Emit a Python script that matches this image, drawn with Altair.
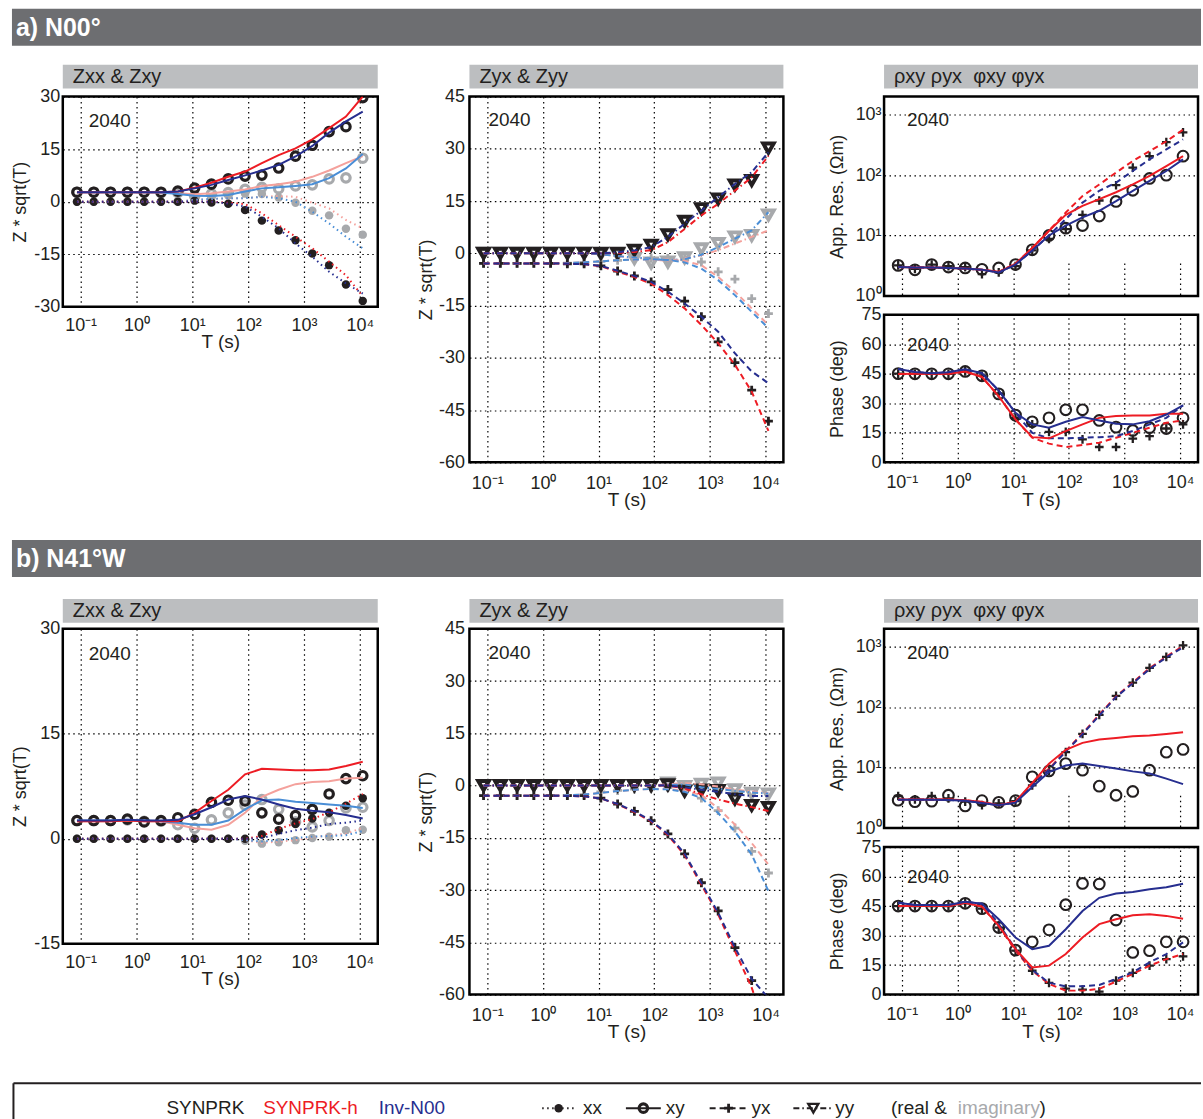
import altair as alt
import pandas as pd

# Periods (s) shared by every sounding curve
PERIOD = [0.0859, 0.1718, 0.3436, 0.6872, 1.374, 2.749, 5.498, 11.0, 21.99,
          43.98, 87.96, 175.9, 351.8, 703.7, 1407.0, 2815.0, 5630.0, 11259.0]

# ---------------- a) N00°  : SYNPRK synthetic data ----------------
A_XY_RE = [2.7, 2.7, 2.7, 2.7, 2.7, 2.7, 3.0, 3.9, 5.0, 6.5, 7.3, 7.6, 9.6, 13.0, 16.1, 20.0, 21.4, 29.7]
A_XY_IM = [2.7, 2.7, 2.7, 2.7, 2.7, 2.6, 2.6, 1.6, 2.2, 2.6, 3.5, 4.1, 3.7, 4.5, 4.8, 6.5, 6.8, 12.4]
A_XX_RE = [0.0, 0.0, 0.0, 0.0, 0.0, 0.0, 0.0, 0.3, -0.2, -0.6, -2.4, -5.4, -8.2, -11.0, -14.8, -18.1, -23.6, -28.3]
A_XX_IM = [0.0, 0.0, 0.0, 0.0, 0.0, 0.0, 0.2, 0.8, 1.3, 1.8, 2.3, 2.2, 1.2, -0.3, -2.6, -3.9, -7.7, -9.4]
A_YX_RE = [-2.9, -2.9, -2.9, -2.9, -2.9, -3.0, -3.0, -3.6, -5.1, -6.5, -8.2, -10.4, -13.7, -18.2, -25.4, -31.4, -39.3, -48.2]
A_YX_IM = [-2.9, -2.9, -2.9, -2.9, -2.9, -2.8, -2.6, -2.3, -2.0, -1.6, -1.4, -1.5, -1.8, -2.5, -5.3, -7.4, -13.0, -17.3]
A_YY_RE = [0.0, 0.0, 0.0, 0.0, 0.0, 0.0, 0.0, 0.0, 0.0, 0.9, 2.3, 5.3, 9.2, 12.8, 15.6, 19.6, 20.9, 30.2]
A_YY_IM = [0.0, 0.0, 0.0, 0.0, 0.0, 0.0, 0.0, -0.2, -0.3, -1.5, -2.8, -2.5, -1.3, 1.3, 2.8, 4.7, 5.1, 11.0]
A_RHO_XY = [3.2, 2.7, 3.3, 3.0, 2.9, 2.75, 2.9, 3.3, 5.8, 10.0, 13.2, 14.6, 21.0, 36.6, 56.0, 88.0, 100.0, 206.0]
A_RHO_YX = [3.2, 2.8, 3.3, 3.1, 3.0, 2.3, 2.45, 3.1, 5.65, 8.8, 12.8, 22.0, 38.0, 68.0, 133.0, 206.0, 351.0, 511.0]
A_PHI_XY = [45.1, 45.0, 45.0, 45.0, 46.2, 44.0, 34.8, 24.0, 20.6, 22.6, 26.7, 26.7, 21.3, 17.9, 16.2, 17.6, 17.2, 22.6]
A_PHI_YX = [45.1, 45.0, 45.0, 45.0, 46.2, 44.0, 35.0, 22.6, 19.3, 15.5, 15.5, 11.7, 7.8, 7.8, 12.0, 13.3, 17.2, 19.3]

# ---------------- a) N00°  : SYNPRK-h response ----------------
AH_XY_RE = [2.7, 2.7, 2.7, 2.7, 2.7, 2.7, 2.9, 4.0, 5.4, 7.1, 8.6, 11.0, 13.3, 15.2, 17.8, 21.0, 24.3, 30.0]
AH_XY_IM = [2.7, 2.7, 2.7, 2.7, 2.7, 2.6, 2.4, 2.1, 2.4, 2.9, 3.5, 4.5, 5.0, 5.7, 7.1, 8.9, 11.0, 13.0]
AH_XX_RE = [0.0, 0.0, 0.0, 0.0, 0.0, 0.0, 0.0, 0.0, 0.0, -0.3, -0.7, -3.3, -6.7, -10.0, -13.3, -17.1, -21.0, -27.0]
AH_XX_IM = [0.0, 0.0, 0.0, 0.0, 0.0, 0.0, 0.0, 0.5, 0.8, 1.0, 1.0, 1.4, 1.6, 1.4, -0.3, -1.9, -5.2, -7.6]
AH_YX_RE = [-2.9, -2.9, -2.9, -2.9, -2.9, -3.0, -3.1, -3.7, -5.3, -6.8, -8.7, -12.0, -15.8, -20.6, -25.8, -32.0, -39.7, -51.0]
AH_YX_IM = [-2.9, -2.9, -2.9, -2.9, -2.9, -2.8, -2.6, -2.3, -2.0, -1.8, -1.7, -1.8, -2.2, -3.4, -6.8, -11.0, -15.8, -20.6]
AH_YY_RE = [0.0, 0.0, 0.0, 0.0, 0.0, 0.0, 0.0, 0.0, 0.1, 0.4, 0.9, 3.2, 7.0, 10.9, 14.2, 18.0, 21.8, 28.0]
AH_YY_IM = [0.0, 0.0, 0.0, 0.0, 0.0, 0.0, 0.0, -0.3, -0.8, -1.3, -1.7, -2.2, -1.5, -0.6, 0.9, 2.8, 4.7, 6.6]
AH_RHO_XY = [3.0, 2.95, 2.95, 2.9, 2.85, 2.7, 2.5, 3.4, 6.2, 12.0, 22.0, 31.0, 40.0, 52.0, 70.0, 97.0, 141.0, 206.0]
AH_RHO_YX = [3.0, 2.95, 2.95, 2.9, 2.85, 2.7, 2.5, 3.4, 6.2, 12.0, 24.0, 45.0, 70.0, 110.0, 171.0, 250.0, 363.0, 565.0]
AH_PHI_XY = [44.9, 45.0, 45.0, 45.0, 46.2, 43.4, 33.6, 21.8, 12.8, 12.2, 15.9, 19.3, 22.6, 23.5, 23.8, 23.8, 24.7, 24.7]
AH_PHI_YX = [44.9, 45.0, 45.0, 45.0, 46.2, 43.4, 33.6, 21.8, 12.5, 9.5, 7.8, 8.8, 10.0, 12.5, 15.0, 17.6, 20.1, 21.3]

# ---------------- a) N00°  : Inv-N00 response ----------------
AI_XY_RE = [2.7, 2.7, 2.7, 2.7, 2.7, 2.7, 2.9, 3.8, 4.8, 6.2, 7.5, 8.9, 10.5, 12.9, 15.9, 19.7, 22.9, 25.7]
AI_XY_IM = [2.7, 2.7, 2.7, 2.7, 2.7, 2.6, 2.2, 1.7, 1.6, 1.9, 2.9, 3.8, 4.1, 4.5, 5.0, 6.7, 9.5, 13.6]
AI_XX_RE = [0.0, 0.0, 0.0, 0.0, 0.0, 0.0, 0.0, 0.0, 0.0, -0.5, -1.4, -4.3, -7.6, -11.9, -15.7, -20.0, -23.3, -26.2]
AI_XX_IM = [0.0, 0.0, 0.0, 0.0, 0.0, 0.0, 0.0, 0.5, 0.8, 1.0, 1.0, 1.4, 1.0, 0.0, -2.9, -6.2, -10.0, -13.3]
AI_YX_RE = [-2.9, -2.9, -2.9, -2.9, -2.9, -3.0, -3.1, -3.6, -5.0, -6.5, -8.2, -11.0, -14.4, -18.2, -22.5, -28.7, -33.9, -37.3]
AI_YX_IM = [-2.9, -2.9, -2.9, -2.9, -2.9, -2.8, -2.6, -2.3, -2.0, -1.8, -1.7, -1.9, -2.6, -4.4, -7.7, -12.0, -16.8, -21.5]
AI_YY_RE = [0.0, 0.0, 0.0, 0.0, 0.0, 0.0, 0.0, 0.0, 0.3, 0.8, 1.8, 4.7, 8.5, 12.3, 16.1, 19.9, 23.3, 29.0]
AI_YY_IM = [0.0, 0.0, 0.0, 0.0, 0.0, 0.0, 0.0, -0.3, -0.8, -1.2, -1.5, -2.0, -1.7, -0.4, 1.8, 4.2, 6.6, 11.8]
AI_RHO_XY = [3.0, 2.95, 2.95, 2.9, 2.85, 2.7, 2.45, 3.3, 5.65, 10.0, 14.6, 20.0, 25.7, 37.0, 55.0, 80.0, 117.0, 182.0]
AI_RHO_YX = [3.0, 2.95, 2.95, 2.9, 2.85, 2.7, 2.45, 3.3, 5.65, 10.0, 18.7, 35.0, 55.0, 75.0, 117.0, 182.0, 266.0, 390.0]
AI_PHI_XY = [47.5, 45.9, 45.3, 45.8, 47.3, 45.3, 36.5, 25.2, 19.3, 17.6, 20.6, 23.0, 21.3, 19.6, 19.3, 20.9, 24.3, 29.0]
AI_PHI_YX = [47.5, 45.9, 45.3, 45.8, 47.3, 45.3, 36.5, 25.2, 15.0, 12.2, 12.2, 12.5, 12.8, 13.3, 15.9, 19.3, 22.6, 29.0]

# ---------------- b) N41°W : SYNPRK synthetic data ----------------
B_XY_RE = [2.6, 2.6, 2.6, 2.8, 2.4, 2.6, 3.0, 3.5, 5.2, 5.5, 5.4, 3.7, 2.8, 3.3, 4.2, 6.4, 8.6, 9.0]
B_XY_IM = [2.6, 2.6, 2.6, 2.7, 2.5, 2.5, 2.0, 1.5, 2.7, 3.7, 4.8, 5.6, 4.2, 2.4, 1.7, 2.6, 4.4, 4.5]
B_XX_RE = [0.0, 0.0, 0.0, 0.0, 0.0, 0.0, 0.0, 0.0, 0.0, 0.0, 0.0, 0.6, 1.2, 2.1, 2.9, 3.7, 4.7, 5.8]
B_XX_IM = [0.0, 0.0, 0.0, 0.0, 0.0, 0.0, 0.0, 0.0, 0.0, 0.0, -0.3, -0.7, -0.5, -0.2, 0.1, 0.3, 1.2, 1.3]
B_YX_RE = [-2.9, -2.9, -2.9, -2.9, -2.9, -2.9, -2.9, -3.6, -5.3, -7.4, -10.1, -13.9, -19.6, -27.9, -36.0, -46.5, -56.0, -70.0]
B_YX_IM = [-2.9, -2.9, -2.9, -2.9, -2.9, -2.8, -2.6, -1.8, -1.4, -1.0, -0.7, -0.6, -1.2, -3.6, -7.2, -12.2, -18.9, -25.1]
B_YY_RE = [0.0, 0.0, 0.0, 0.0, 0.0, 0.0, 0.0, 0.0, 0.0, 0.0, 0.0, 0.2, -1.6, -1.3, -1.4, -3.9, -5.7, -6.3]
B_YY_IM = [0.0, 0.0, 0.0, 0.0, 0.0, 0.0, 0.0, 0.0, 0.0, 0.0, 0.0, 0.7, -0.3, 0.4, 0.7, -1.2, -2.2, -2.4]
B_RHO_XY = [2.9, 2.74, 2.8, 3.5, 2.33, 2.85, 2.67, 2.85, 7.05, 8.85, 11.7, 9.1, 4.95, 3.5, 4.05, 9.1, 18.1, 20.1]
B_RHO_YX = [3.4, 3.0, 3.4, 3.1, 2.74, 2.4, 2.57, 2.8, 5.1, 8.85, 18.1, 36.3, 75.0, 155.0, 257.0, 452.0, 684.0, 1064.0]
B_PHI_XY = [45.0, 45.0, 45.0, 45.0, 46.4, 43.7, 34.1, 22.6, 26.8, 32.9, 45.7, 56.5, 56.2, 37.9, 21.4, 22.3, 26.8, 26.8]
B_PHI_YX = [45.0, 45.0, 45.0, 45.0, 46.4, 43.7, 34.0, 22.3, 12.1, 5.9, 3.0, 2.5, 1.5, 7.1, 11.0, 14.7, 18.0, 19.4]

# ---------------- b) N41°W : SYNPRK-h response ----------------
BH_XY_RE = [2.5, 2.5, 2.5, 2.6, 2.5, 2.5, 2.5, 3.7, 5.4, 7.0, 9.2, 10.0, 9.9, 9.8, 9.8, 9.9, 10.4, 11.0]
BH_XY_IM = [2.5, 2.5, 2.5, 2.6, 2.5, 2.5, 2.0, 1.5, 1.3, 2.0, 3.7, 6.0, 7.0, 7.8, 8.1, 8.2, 8.6, 8.7]
BH_XX_RE = [0.0, 0.0, 0.0, 0.0, 0.0, 0.0, 0.0, 0.0, 0.0, 0.0, 0.0, 0.4, 1.4, 2.2, 2.8, 3.8, 5.0, 6.4]
BH_XX_IM = [0.0, 0.0, 0.0, 0.0, 0.0, 0.0, 0.0, 0.0, 0.0, 0.0, -0.2, -0.6, -0.4, -0.2, 0.2, 0.5, 0.7, 1.6]
BH_YX_RE = [-2.9, -2.9, -2.9, -2.9, -2.9, -3.0, -3.1, -3.7, -5.4, -7.6, -10.3, -14.2, -20.0, -28.5, -37.0, -47.5, -58.0, -72.0]
BH_YX_IM = [-2.9, -2.9, -2.9, -2.9, -2.9, -2.8, -2.6, -2.1, -1.6, -1.2, -1.0, -1.0, -1.5, -2.7, -6.5, -11.2, -16.5, -22.7]
BH_YY_RE = [0.0, 0.0, 0.0, 0.0, 0.0, 0.0, 0.0, 0.0, 0.0, 0.0, 0.0, 0.0, -0.8, -2.5, -4.0, -5.2, -6.2, -7.3]
BH_YY_IM = [0.0, 0.0, 0.0, 0.0, 0.0, 0.0, 0.0, 0.0, 0.0, 0.0, 0.0, 0.4, 0.7, 0.4, -0.3, -1.2, -1.7, -2.2]
BH_RHO_XY = [2.99, 2.98, 2.98, 2.97, 2.9, 2.7, 2.4, 2.74, 5.6, 11.7, 19.8, 25.8, 29.3, 31.2, 33.2, 34.1, 36.3, 38.6]
BH_RHO_YX = [2.99, 2.98, 2.98, 2.97, 2.9, 2.7, 2.4, 2.74, 5.4, 9.6, 19.0, 37.0, 76.0, 152.0, 258.0, 445.0, 690.0, 1040.0]
BH_PHI_XY = [45.0, 45.0, 45.0, 45.0, 46.7, 44.7, 34.9, 23.1, 13.8, 14.7, 20.6, 29.0, 35.8, 38.3, 40.3, 40.8, 40.0, 38.6]
BH_PHI_YX = [45.0, 45.0, 45.0, 45.0, 46.7, 44.7, 34.9, 22.3, 12.1, 5.4, 2.0, 2.0, 2.9, 6.6, 10.5, 14.7, 18.0, 20.6]

# ---------------- b) N41°W : Inv-N00 response ----------------
BI_XY_RE = [2.6, 2.6, 2.6, 2.7, 2.6, 2.6, 2.7, 3.5, 4.5, 5.6, 6.1, 5.6, 4.9, 4.3, 4.0, 3.8, 3.4, 2.9]
BI_XY_IM = [2.6, 2.6, 2.6, 2.7, 2.6, 2.5, 2.3, 2.0, 2.0, 2.6, 4.2, 5.5, 5.6, 5.3, 5.1, 4.9, 4.7, 4.4]
BI_XX_RE = [0.0, 0.0, 0.0, 0.0, 0.0, 0.0, 0.0, 0.0, 0.0, 0.0, 0.0, 0.1, 0.7, 1.2, 1.6, 2.1, 2.3, 2.6]
BI_XX_IM = [0.0, 0.0, 0.0, 0.0, 0.0, 0.0, 0.0, 0.0, 0.0, 0.0, -0.2, -0.4, -0.2, 0.1, 0.3, 0.4, 0.5, 1.1]
BI_YX_RE = [-2.9, -2.9, -2.9, -2.9, -2.9, -3.0, -3.1, -3.7, -5.3, -7.4, -10.1, -13.9, -19.6, -28.0, -36.5, -46.5, -55.5, -61.0]
BI_YX_IM = [-2.9, -2.9, -2.9, -2.9, -2.9, -2.8, -2.6, -2.1, -1.6, -1.2, -1.0, -1.1, -1.8, -3.6, -7.9, -13.2, -19.8, -30.3]
BI_YY_RE = [0.0, 0.0, 0.0, 0.0, 0.0, 0.0, 0.0, 0.0, 0.0, 0.0, 0.0, 0.0, -0.5, -1.2, -1.8, -2.5, -3.0, -3.0]
BI_YY_IM = [0.0, 0.0, 0.0, 0.0, 0.0, 0.0, 0.0, 0.0, 0.0, 0.0, 0.0, 0.2, 0.3, -0.5, -1.0, -1.5, -2.0, -2.3]
BI_RHO_XY = [2.95, 2.95, 2.95, 2.93, 2.85, 2.6, 2.4, 2.64, 4.8, 8.5, 10.9, 11.7, 10.7, 9.7, 8.7, 8.0, 6.6, 5.35]
BI_RHO_YX = [2.95, 2.95, 2.95, 2.93, 2.85, 2.6, 2.4, 2.64, 5.2, 9.3, 18.5, 36.0, 73.0, 148.0, 250.0, 430.0, 670.0, 990.0]
BI_PHI_XY = [46.7, 45.5, 45.5, 45.5, 47.2, 46.2, 38.3, 29.0, 23.1, 24.8, 33.2, 42.5, 49.2, 51.4, 52.1, 53.5, 54.6, 56.3]
BI_PHI_YX = [46.7, 45.5, 45.5, 45.5, 47.2, 46.2, 36.0, 23.0, 12.5, 6.0, 4.2, 4.2, 4.9, 7.9, 11.3, 16.4, 20.6, 26.5]

# ---------------- legend entries ----------------
LEGEND_TEXT = ["SYNPRK", "SYNPRK-h", "Inv-N00", "xx", "xy", "yx", "yy", "(real &", "imaginary", ")"]
LEGEND_X = [104, 201, 317, 522, 605, 691, 775, 831, 898, 980]

# ---------------- styling ----------------
FONT = "Liberation Sans"
INK = "#231f20"
GREY_MK = "#a7a9ac"
RED = "#ed1c24"
PINK = "#f4a19c"
NAVY = "#262e8f"
SKY = "#4a8ed6"
BAR = "#bcbec0"
HEAD = "#6d6e71"

DOTTED = [1.5, 3.5]
DASHED = [6, 4]
DASHDOT = [6, 3, 1.5, 3]

RING = dict(shape="circle", filled=False, size=72, strokeWidth=3.2)
DOT = dict(shape="circle", filled=True, size=72, strokeWidth=0)
PLUS = dict(shape="M-1,0H1M0,-1V1", filled=False, size=80, strokeWidth=2.8)
TRI = dict(shape="triangle-down", filled=False, size=112, strokeWidth=3.9)
O_THIN = dict(shape="circle", filled=False, size=115, strokeWidth=2.1)
PLUS_THIN = dict(shape="M-1,0H1M0,-1V1", filled=False, size=76, strokeWidth=2.3)

LEGEND_COLOR = [INK, RED, NAVY, INK, INK, INK, INK, INK, GREY_MK, INK]

X_EXPR = ("datum.value < 0.5 ? '10⁻¹' : datum.value < 5 ? '10⁰' : datum.value < 50 ? '10¹' : "
          "datum.value < 500 ? '10²' : datum.value < 5000 ? '10³' : '10⁴'")
RHO_EXPR = "datum.value < 5 ? '10⁰' : datum.value < 50 ? '10¹' : datum.value < 500 ? '10²' : '10³'"
LIN_EXPR = "datum.value < 0 ? '-' + abs(datum.value) : '' + datum.value"

GRID = dict(grid=True, gridColor="#000000", gridDash=[1.5, 3.5], gridWidth=1.2, gridOpacity=1,
            domain=False, ticks=False, tickSize=0, labelFont=FONT, titleFont=FONT,
            labelColor=INK, titleColor=INK, labelFontSize=18,
            titleFontWeight="normal")

ONE = pd.DataFrame({"k": [0]})


def x_enc(label_pad, title_y):
    axis = alt.Axis(values=[0.1, 1, 10, 100, 1000, 10000], labelExpr=X_EXPR, title="T (s)",
                    labelPadding=label_pad, titleY=title_y, titleFontSize=19, **GRID)
    return alt.X("T:Q", scale=alt.Scale(type="log", domain=[0.0479, 20900], nice=False), axis=axis)


def y_enc(domain, values, title, label_pad, title_x, rng=None, log=False, expr=LIN_EXPR):
    scale_kw = dict(domain=domain, nice=False)
    if log:
        scale_kw["type"] = "log"
    else:
        scale_kw["zero"] = False
    if rng:
        scale_kw["range"] = rng
    axis = alt.Axis(values=values, title=title, labelPadding=label_pad, titleX=title_x,
                    orient="left", labelExpr=expr, titleFontSize=18, **GRID)
    return alt.Y("v:Q", scale=alt.Scale(**scale_kw), axis=axis)


def frame(values):
    return pd.DataFrame({"T": PERIOD, "v": values})


def curve(values, color, dash, x, y):
    props = dict(color=color, strokeWidth=2, clip=True)
    if dash:
        props["strokeDash"] = dash
    return alt.Chart(frame(values)).mark_line(**props).encode(x=x, y=y)


def symbols(values, color, style, x, y):
    return alt.Chart(frame(values)).mark_point(color=color, opacity=1, clip=True, **style).encode(x=x, y=y)


def banner(width, top, text):
    rect = alt.Chart(ONE).mark_rect(color=BAR).encode(
        x=alt.value(0), x2=alt.value(width), y=alt.value(top), y2=alt.value(top + 24))
    label = alt.Chart(ONE).mark_text(text=text, align="left", baseline="middle", font=FONT,
                                     fontSize=20, color=INK).encode(
        x=alt.value(10), y=alt.value(top + 12))
    return [rect, label]


def tag(x, y):
    return alt.Chart(ONE).mark_text(text="2040", align="left", baseline="middle", font=FONT,
                                    fontSize=19, color=INK).encode(x=alt.value(x), y=alt.value(y))


FRAMED = alt.ViewBackground(stroke="#000000", strokeWidth=2.5)


def panel_xx_xy(obs, hom, inv, height, ydom, yvals, top):
    x = x_enc(10, 26)
    y = y_enc(ydom, yvals, "Z * sqrt(T)", 3, -33)
    xy_re, xy_im, xx_re, xx_im = obs
    layers = banner(316, top, "Zxx & Zxy") + [tag(26, 25)]
    layers += [
        symbols(xx_im, GREY_MK, DOT, x, y),
        symbols(xy_im, GREY_MK, RING, x, y),
        symbols(xx_re, INK, DOT, x, y),
        symbols(xy_re, INK, RING, x, y),
        curve(hom[3], PINK, DOTTED, x, y),
        curve(inv[3], SKY, DOTTED, x, y),
        curve(hom[2], RED, DOTTED, x, y),
        curve(inv[2], NAVY, DOTTED, x, y),
        curve(hom[1], PINK, None, x, y),
        curve(inv[1], SKY, None, x, y),
        curve(hom[0], RED, None, x, y),
        curve(inv[0], NAVY, None, x, y),
    ]
    return alt.layer(*layers).properties(width=316, height=height, view=FRAMED)


def panel_yx_yy(obs, hom, inv, top):
    x = x_enc(12, 28)
    y = y_enc([-60, 45], [-60, -45, -30, -15, 0, 15, 30, 45], "Z * sqrt(T)", 5, -34)
    yx_re, yx_im, yy_re, yy_im = obs
    layers = banner(315, top, "Zyx & Zyy") + [tag(19, 24)]
    layers += [
        symbols(yy_im, GREY_MK, TRI, x, y),
        symbols(yx_im, GREY_MK, PLUS, x, y),
        symbols(yy_re, INK, TRI, x, y),
        symbols(yx_re, INK, PLUS, x, y),
        curve(hom[3], PINK, DASHDOT, x, y),
        curve(inv[3], SKY, DASHDOT, x, y),
        curve(hom[1], PINK, DASHED, x, y),
        curve(inv[1], SKY, DASHED, x, y),
        curve(hom[2], RED, DASHDOT, x, y),
        curve(inv[2], NAVY, DASHDOT, x, y),
        curve(hom[0], RED, DASHED, x, y),
        curve(inv[0], NAVY, DASHED, x, y),
    ]
    return alt.layer(*layers).properties(width=315, height=367, view=FRAMED)


def panel_rho_phi(obs, hom, inv, top):
    x = x_enc(11, 28)
    y_rho = y_enc([1, 2000], [1, 10, 100, 1000], "App. Res. (Ωm)", 3, -38,
                  rng=[200, 0], log=True, expr=RHO_EXPR)
    y_phi = y_enc([0, 75], [0, 15, 30, 45, 60, 75], "Phase (deg)", 3, -38, rng=[367, 219])
    rho_xy, rho_yx, phi_xy, phi_yx = obs
    rho = alt.layer(
        symbols(rho_yx, INK, PLUS_THIN, x, y_rho),
        symbols(rho_xy, INK, O_THIN, x, y_rho),
        curve(hom[1], RED, DASHED, x, y_rho),
        curve(inv[1], NAVY, DASHED, x, y_rho),
        curve(hom[0], RED, None, x, y_rho),
        curve(inv[0], NAVY, None, x, y_rho),
    )
    phi = alt.layer(
        symbols(phi_yx, INK, PLUS_THIN, x, y_phi),
        symbols(phi_xy, INK, O_THIN, x, y_phi),
        curve(hom[3], RED, DASHED, x, y_phi),
        curve(inv[3], NAVY, DASHED, x, y_phi),
        curve(hom[2], RED, None, x, y_phi),
        curve(inv[2], NAVY, None, x, y_phi),
    )
    gap = alt.Chart(ONE).mark_rect(color="white").encode(
        x=alt.value(0), x2=alt.value(315), y=alt.value(200), y2=alt.value(219))
    box_rho = alt.Chart(ONE).mark_rect(fillOpacity=0, stroke="#000000", strokeWidth=2.5).encode(
        x=alt.value(0), x2=alt.value(315), y=alt.value(0), y2=alt.value(200))
    box_phi = alt.Chart(ONE).mark_rect(fillOpacity=0, stroke="#000000", strokeWidth=2.5).encode(
        x=alt.value(0), x2=alt.value(315), y=alt.value(219), y2=alt.value(367))
    layers = [gap, rho, phi, box_rho, box_phi] + banner(315, top, "ρxy ρyx\u00a0\u00a0φxy φyx")
    layers += [tag(23, 24), tag(23, 249)]
    return alt.layer(*layers).resolve_scale(y="independent").properties(
        width=315, height=367, view=alt.ViewBackground(stroke="transparent"))


def spacer(w):
    return alt.Chart(ONE).mark_point(opacity=0).encode(
        x=alt.value(0), y=alt.value(0)).properties(width=w, height=1)


def header(text, height, top):
    # the bar reaches 51 px left of the first plot so that it spans the page
    bar = alt.Chart(ONE).mark_rect(color=HEAD).encode(
        x=alt.value(-51), x2=alt.value(1142), y=alt.value(top), y2=alt.value(top + 37))
    label = alt.Chart(ONE).mark_text(text=text, align="left", baseline="middle", font=FONT,
                                     fontSize=25, fontWeight="bold", color="white").encode(
        x=alt.value(-47), y=alt.value(top + 19))
    return alt.layer(bar, label).properties(width=1142, height=height)


def row(obs, hom, inv, p1_height, p1_dom, p1_vals, top):
    p1 = panel_xx_xy(obs[0:4], hom[0:4], inv[0:4], p1_height, p1_dom, p1_vals, top)
    p2 = panel_yx_yy(obs[4:8], hom[4:8], inv[4:8], top)
    p3 = panel_rho_phi(obs[8:12], hom[8:12], inv[8:12], top)
    return alt.hconcat(p1, spacer(92), p2, spacer(101), p3, spacing=0, bounds="flush")


A_OBS = [A_XY_RE, A_XY_IM, A_XX_RE, A_XX_IM, A_YX_RE, A_YX_IM, A_YY_RE, A_YY_IM,
         A_RHO_XY, A_RHO_YX, A_PHI_XY, A_PHI_YX]
A_HOM = [AH_XY_RE, AH_XY_IM, AH_XX_RE, AH_XX_IM, AH_YX_RE, AH_YX_IM, AH_YY_RE, AH_YY_IM,
         AH_RHO_XY, AH_RHO_YX, AH_PHI_XY, AH_PHI_YX]
A_INV = [AI_XY_RE, AI_XY_IM, AI_XX_RE, AI_XX_IM, AI_YX_RE, AI_YX_IM, AI_YY_RE, AI_YY_IM,
         AI_RHO_XY, AI_RHO_YX, AI_PHI_XY, AI_PHI_YX]
B_OBS = [B_XY_RE, B_XY_IM, B_XX_RE, B_XX_IM, B_YX_RE, B_YX_IM, B_YY_RE, B_YY_IM,
         B_RHO_XY, B_RHO_YX, B_PHI_XY, B_PHI_YX]
B_HOM = [BH_XY_RE, BH_XY_IM, BH_XX_RE, BH_XX_IM, BH_YX_RE, BH_YX_IM, BH_YY_RE, BH_YY_IM,
         BH_RHO_XY, BH_RHO_YX, BH_PHI_XY, BH_PHI_YX]
B_INV = [BI_XY_RE, BI_XY_IM, BI_XX_RE, BI_XX_IM, BI_YX_RE, BI_YX_IM, BI_YY_RE, BI_YY_IM,
         BI_RHO_XY, BI_RHO_YX, BI_PHI_XY, BI_PHI_YX]

row_a = row(A_OBS, A_HOM, A_INV, 211, [-30, 30], [-30, -15, 0, 15, 30], -32)
row_b = row(B_OBS, B_HOM, B_INV, 316, [-15, 30], [-15, 0, 15, 30], -30)

# ---------------- legend strip ----------------
LEG_TOP = 39
LEG_Y = 64
legend_df = pd.DataFrame({"t": LEGEND_TEXT, "x": LEGEND_X, "c": LEGEND_COLOR})
legend_text = alt.Chart(legend_df).mark_text(align="left", baseline="middle", font=FONT, fontSize=19).encode(
    x=alt.X("x:Q", scale=None), y=alt.value(LEG_Y), text="t:N", color=alt.Color("c:N", scale=None))


def sample(x1, x2, dash, style):
    props = dict(color=INK, strokeWidth=2)
    if dash:
        props["strokeDash"] = dash
    line = alt.Chart(ONE).mark_rule(**props).encode(
        x=alt.value(x1), x2=alt.value(x2), y=alt.value(LEG_Y))
    mark = alt.Chart(ONE).mark_point(color=INK, opacity=1, **style).encode(
        x=alt.value((x1 + x2) / 2), y=alt.value(LEG_Y))
    return [line, mark]


legend_layers = [
    alt.Chart(ONE).mark_rule(color=INK, strokeWidth=2).encode(
        x=alt.value(-49.5), x2=alt.value(1142), y=alt.value(LEG_TOP)),
    alt.Chart(ONE).mark_rule(color=INK, strokeWidth=2).encode(
        x=alt.value(-49.5), y=alt.value(LEG_TOP), y2=alt.value(75)),
    legend_text,
]
legend_layers += sample(481, 514, DOTTED, DOT)
legend_layers += sample(565, 600, None, RING)
legend_layers += sample(649, 687, DASHED, PLUS)
legend_layers += sample(733, 773, DASHDOT, dict(shape="triangle-down", filled=False, size=100, strokeWidth=2.4))
legend = alt.layer(*legend_layers).properties(width=1142, height=75)

chart = alt.vconcat(
    header("a) N00°", 53, 0),
    row_a,
    header("b) N41°W", 84, 28),
    row_b,
    legend,
    spacing=0,
).properties(
    padding={"left": 10, "top": 6, "right": 0, "bottom": 0},
    background="white",
).configure(font=FONT).configure_view(stroke="transparent")

chart.save("out.html", embed_options={"renderer": "svg", "actions": False})
